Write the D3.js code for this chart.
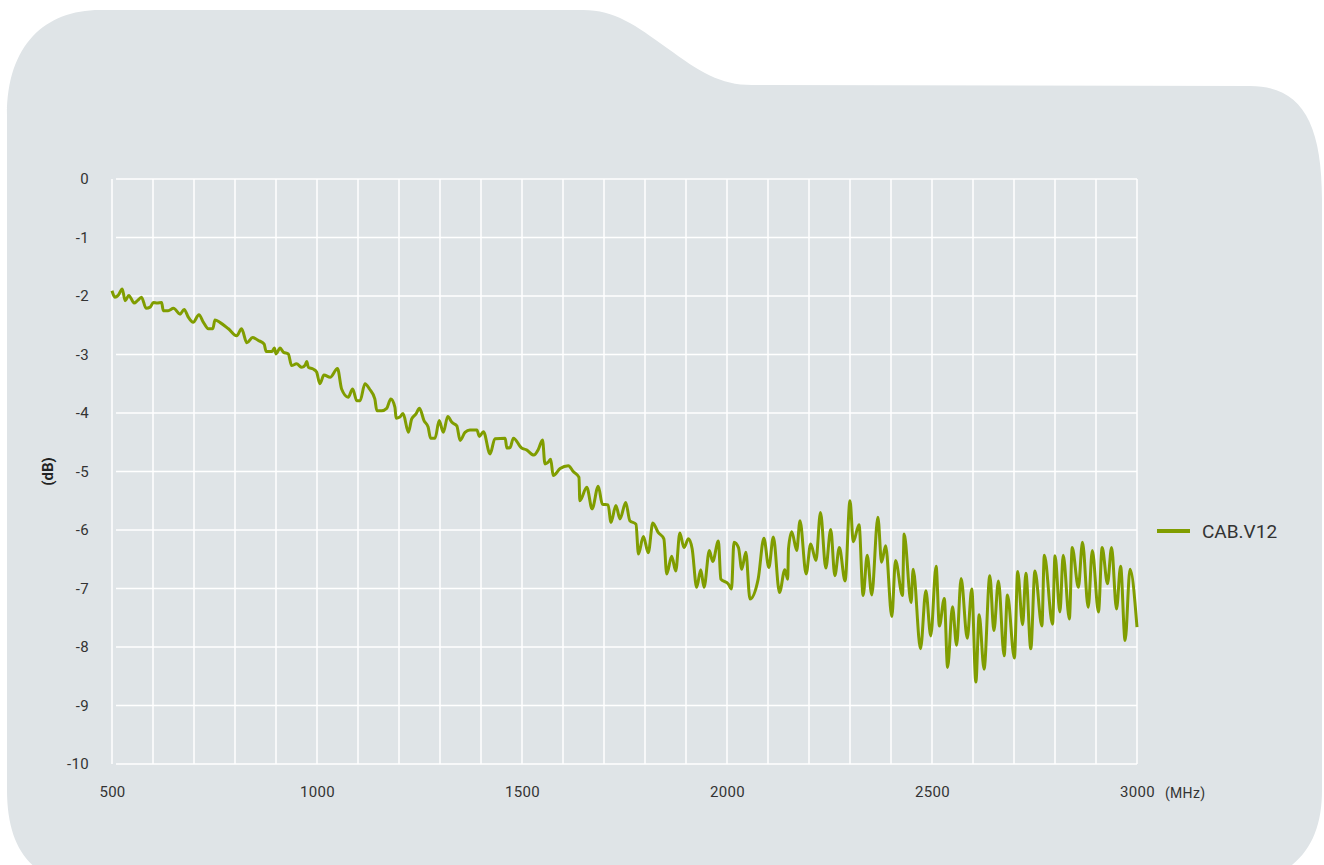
<!DOCTYPE html>
<html>
<head>
<meta charset="utf-8">
<script src="https://cdn.jsdelivr.net/npm/d3@7"></script>
<style>
  body { margin: 0; background: #fff; }
  svg { display: block; font-family: Roboto, "Open Sans", sans-serif; }
</style>
</head>
<body>
<svg id="chart" width="1324" height="865"></svg>
<script>
// frequency (MHz) and attenuation (dB)
const freq = [500, 507, 515, 525, 532, 541, 554, 562, 572, 583, 593, 601, 610, 621, 625, 637, 650, 666, 676, 686,
  698, 712, 723, 735, 746, 751, 763, 784, 804, 816, 829, 843, 857, 871, 876, 890, 896, 900, 910, 918,
  930, 938, 950, 963, 971, 975, 979, 991, 999, 1007, 1017, 1032, 1050, 1060, 1076, 1087, 1097, 1105, 1117, 1128,
  1141, 1146, 1158, 1170, 1180, 1190, 1193, 1202, 1210, 1223, 1231, 1241, 1250, 1261, 1271, 1277, 1288, 1298, 1308, 1319,
  1329, 1341, 1349, 1361, 1373, 1390, 1396, 1406, 1422, 1434, 1459, 1463, 1471, 1479, 1499, 1511, 1529, 1540, 1550, 1556,
  1564, 1570, 1576, 1593, 1613, 1625, 1639, 1641, 1658, 1671, 1686, 1696, 1710, 1717, 1729, 1739, 1753, 1763, 1778, 1784,
  1796, 1808, 1819, 1832, 1846, 1853, 1865, 1875, 1885, 1895, 1906, 1915, 1926, 1936, 1944, 1957, 1965, 1979, 1985, 2003,
  2011, 2017, 2028, 2036, 2046, 2056, 2076, 2090, 2102, 2113, 2128, 2141, 2148, 2150, 2158, 2170, 2178, 2193, 2204, 2217,
  2228, 2241, 2253, 2263, 2274, 2288, 2300, 2308, 2322, 2332, 2342, 2353, 2368, 2377, 2387, 2402, 2411, 2428, 2432, 2449,
  2454, 2472, 2485, 2497, 2510, 2518, 2530, 2538, 2550, 2560, 2571, 2586, 2597, 2607, 2615, 2627, 2641, 2651, 2662, 2676,
  2684, 2701, 2709, 2721, 2729, 2741, 2751, 2768, 2774, 2794, 2800, 2812, 2820, 2835, 2842, 2857, 2867, 2881, 2891, 2906,
  2915, 2928, 2938, 2950, 2960, 2971, 2983, 3000];
const loss = [-1.91, -2.02, -1.99, -1.88, -2.08, -1.99, -2.12, -2.08, -2.02, -2.21, -2.19, -2.11, -2.12, -2.11, -2.25, -2.25, -2.21, -2.31, -2.23, -2.36,
  -2.45, -2.32, -2.45, -2.56, -2.56, -2.41, -2.45, -2.56, -2.68, -2.56, -2.80, -2.71, -2.76, -2.82, -2.95, -2.95, -2.89, -2.99, -2.89, -2.96,
  -2.99, -3.19, -3.16, -3.22, -3.18, -3.12, -3.22, -3.25, -3.30, -3.50, -3.35, -3.39, -3.24, -3.59, -3.73, -3.59, -3.79, -3.79, -3.50, -3.59,
  -3.76, -3.96, -3.96, -3.92, -3.76, -3.90, -4.09, -4.07, -4.01, -4.33, -4.10, -4.02, -3.92, -4.13, -4.24, -4.43, -4.43, -4.13, -4.33, -4.06,
  -4.16, -4.22, -4.47, -4.33, -4.29, -4.29, -4.40, -4.32, -4.70, -4.44, -4.43, -4.60, -4.59, -4.43, -4.60, -4.63, -4.72, -4.62, -4.46, -4.87,
  -4.84, -4.79, -5.07, -4.95, -4.90, -5.00, -5.10, -5.50, -5.27, -5.64, -5.25, -5.56, -5.57, -5.87, -5.58, -5.81, -5.53, -5.84, -5.90, -6.41,
  -6.11, -6.39, -5.88, -6.04, -6.15, -6.75, -6.45, -6.70, -6.05, -6.30, -6.15, -6.32, -6.98, -6.68, -6.98, -6.35, -6.54, -6.19, -6.84, -6.92,
  -7.01, -6.21, -6.30, -6.67, -6.38, -7.18, -6.84, -6.14, -6.64, -6.12, -7.07, -6.68, -6.84, -6.32, -6.03, -6.35, -5.84, -6.75, -6.24, -6.52,
  -5.70, -6.65, -5.99, -6.78, -6.30, -6.87, -5.50, -6.20, -5.91, -7.12, -6.43, -7.11, -5.78, -6.55, -6.27, -7.48, -6.52, -7.12, -6.07, -7.24,
  -6.67, -8.03, -7.04, -7.81, -6.62, -7.64, -7.17, -8.35, -7.31, -7.97, -6.83, -7.85, -7.01, -8.60, -7.45, -8.38, -6.78, -7.72, -6.87, -8.15,
  -7.11, -8.19, -6.71, -7.62, -6.74, -8.03, -6.70, -7.64, -6.43, -7.61, -6.44, -7.40, -6.43, -7.52, -6.30, -6.98, -6.21, -7.32, -6.35, -7.40,
  -6.30, -6.92, -6.30, -7.35, -6.62, -7.89, -6.67, -7.66];

const xTicks = [500, 1000, 1500, 2000, 2500, 3000];
const yTicks = [0, -1, -2, -3, -4, -5, -6, -7, -8, -9, -10];
const seriesName = "CAB.V12";

const lineColor = "#809d00";
const bgColor = "#dfe4e7";

let svg = d3.select("#chart");

// rounded tab-shaped panel behind the chart
svg.append("path")
  .attr("d", "M7,115 C7,45 45,10 100,10 L583,10 C615,10 635,25 667,48 C700,72 720,85 752,85 " +
    "L1250,86 C1300,86 1322,120 1322,200 L1322,790 C1322,835 1305,865 1265,880 " +
    "L60,880 C25,870 7,840 7,790 Z")
  .attr("fill", bgColor);

let x = d3.scaleLinear().domain([500, 3000]).range([112, 1137]);
let y = d3.scaleLinear().domain([-10, 0]).range([764, 179]);

// grid
let grid = svg.append("g").attr("class", "grid");

grid.selectAll("line.v")
  .data(d3.range(500, 3001, 100))
  .enter()
  .append("line")
  .attr("class", "v")
  .attr("x1", d => x(d))
  .attr("x2", d => x(d))
  .attr("y1", y(0))
  .attr("y2", y(-10))
  .attr("stroke", "#fff")
  .attr("stroke-width", 1.5);

grid.selectAll("line.h")
  .data(yTicks)
  .enter()
  .append("line")
  .attr("class", "h")
  .attr("x1", 116)
  .attr("x2", x(3000))
  .attr("y1", d => y(d))
  .attr("y2", d => y(d))
  .attr("stroke", "#fff")
  .attr("stroke-width", 1.5);

// axes (plain hyphen for negatives, like the original)
let yAxis = svg.append("g")
  .attr("transform", `translate(${x(500)}, 0)`)
  .call(d3.axisLeft(y).tickValues(yTicks).tickSize(0).tickPadding(23).tickFormat(d => String(d)));

let xAxis = svg.append("g")
  .attr("transform", `translate(0, ${y(-10)})`)
  .call(d3.axisBottom(x).tickValues(xTicks).tickSize(0).tickPadding(22).tickFormat(d => String(d)));

[yAxis, xAxis].forEach(a => {
  a.select(".domain").remove();
  a.selectAll("text")
    .attr("fill", "#333")
    .attr("font-size", "15px")
    .attr("letter-spacing", "0.3px")
    .attr("font-family", "Roboto, sans-serif");
});

svg.append("text")
  .attr("x", x(3000) + 28)
  .attr("y", y(-10) + 34)
  .attr("fill", "#333")
  .attr("font-size", "14px")
  .attr("letter-spacing", "0.3px")
  .text("(MHz)");

svg.append("text")
  .attr("transform", `translate(53, ${y(-5)}) rotate(-90)`)
  .attr("text-anchor", "middle")
  .attr("fill", "#222")
  .attr("font-size", "15px")
  .attr("font-weight", "bold")
  .text("(dB)");

// the measured line
let data = freq.map((f, i) => ({ f: f, v: loss[i] }));

let line = d3.line()
  .x(d => x(d.f))
  .y(d => y(d.v))
  .curve(d3.curveMonotoneX);

svg.append("path")
  .datum(data)
  .attr("d", line)
  .attr("fill", "none")
  .attr("stroke", lineColor)
  .attr("stroke-width", 3)
  .attr("stroke-linejoin", "round");

// legend
let legend = svg.append("g").attr("transform", "translate(1157, 531)");

legend.append("line")
  .attr("x1", 0)
  .attr("x2", 33)
  .attr("stroke", lineColor)
  .attr("stroke-width", 4);

legend.append("text")
  .attr("x", 45)
  .attr("dy", "0.35em")
  .attr("fill", "#333")
  .attr("font-size", "19px")
  .text(seriesName);
</script>
</body>
</html>
